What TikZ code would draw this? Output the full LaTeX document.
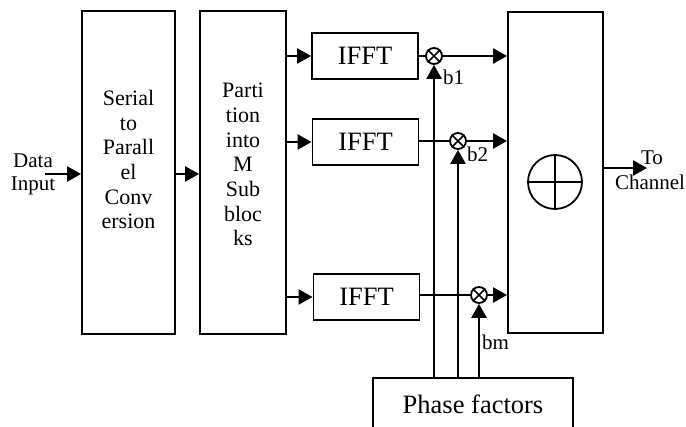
\documentclass[tikz,border=0pt]{standalone}
\usepackage{fontspec}
\setmainfont{Liberation Serif}
\usetikzlibrary{arrows.meta}
\begin{document}
\begin{tikzpicture}[x=1pt,y=-1pt,
  box/.style={draw,line width=1.9pt,inner sep=0pt},
  arr/.style={line width=2.5pt,-{Triangle[length=14pt,width=15pt]}},
  ln/.style={line width=2.3pt},
  mult/.style={draw,circle,line width=1.8pt,minimum size=16pt,inner sep=0pt},
  boxtext/.style={inner sep=0pt,align=center,anchor=north,font=\fontsize{22}{24.7}\selectfont},
  big/.style={font=\fontsize{26.5}{30}\selectfont},
  lbl/.style={inner sep=0pt,font=\fontsize{21}{24}\selectfont}]
\fill[white] (0,0) rectangle (686,427);
\useasboundingbox (0,0) rectangle (686,427);
\clip (0,0) rectangle (686,427);
% main boxes
\node[box,minimum width=93pt,minimum height=323pt] (sp) at (128.5,172.5) {};
\node[boxtext] (sptext) at (128.5,90) {Serial\\to\\Parall\\el\\Conv\\ersion};
\node[box,minimum width=86pt,minimum height=323pt] (part) at (243,172.5) {};
\node[boxtext] (parttext) at (243,83) {Parti\\tion\\into\\M\\Sub\\bloc\\ks};
\node[box,big,minimum width=106pt,minimum height=46pt] (ifft1) at (365,56) {IFFT};
\node[box,big,minimum width=106pt,minimum height=46pt] (ifft2) at (365.5,142) {IFFT};
\node[box,big,minimum width=106pt,minimum height=46pt] (ifft3) at (366.5,297) {IFFT};
\node[box,minimum width=95pt,minimum height=321pt] (sum) at (555.5,172.5) {};
\node[draw,circle,line width=1.8pt,minimum size=54pt,inner sep=0pt] (plus) at (555,182) {};
\draw[line width=1.8pt] (plus.north) -- (plus.south) (plus.west) -- (plus.east);
\node[box,big,minimum width=200pt,minimum height=52pt] (phase) at (473,404) {Phase factors};
% multipliers
\node[mult] (m1) at (434,56) {};
\node[mult] (m2) at (458,141) {};
\node[mult] (m3) at (479,295) {};
\foreach \m in {m1,m2,m3}{
  \draw[line width=1.5pt] (\m.north west) -- (\m.south east) (\m.north east) -- (\m.south west);
}
% input
\node[lbl] (data) at (33,161) {Data};
\node[lbl] (input) at (33,186) {Input};
\coordinate (din) at (45,174);
\draw[arr] (din) -- (din -| sp.west);
\draw[arr] (sp.east |- din) -- (din -| part.west);
% partition to IFFT
\draw[arr] (part.east |- ifft1.west) -- (ifft1.west);
\draw[arr] (part.east |- ifft2.west) -- (ifft2.west);
\draw[arr] (part.east |- ifft3.west) -- (ifft3.west);
% IFFT to multipliers
\draw[ln] (ifft1.east) -- (m1.west);
\draw[ln] (ifft2.east |- m2.west) -- (m2.west);
\draw[ln] (ifft3.east |- m3.west) -- (m3.west);
% multipliers to sum
\draw[arr] (m1.east) -- (m1.east -| sum.west);
\draw[arr] (m2.east) -- (m2.east -| sum.west);
\draw[arr] (m3.east) -- (m3.east -| sum.west);
% phase factors to multipliers
\draw[arr] (m1.south |- phase.north) -- (m1.south);
\draw[arr] (m2.south |- phase.north) -- (m2.south);
\draw[arr] (m3.south |- phase.north) -- (m3.south);
\node[lbl,anchor=west] (b1) at (443,77) {b1};
\node[lbl,anchor=west] (b2) at (467,154) {b2};
\node[lbl,anchor=west] (bm) at (482,342) {bm};
% output
\coordinate (out) at (647,168);
\draw[arr] (sum.east |- out) -- (out);
\node[lbl] (to) at (652,158) {To};
\node[lbl] (chan) at (650,182) {Channel};
\end{tikzpicture}
\end{document}
